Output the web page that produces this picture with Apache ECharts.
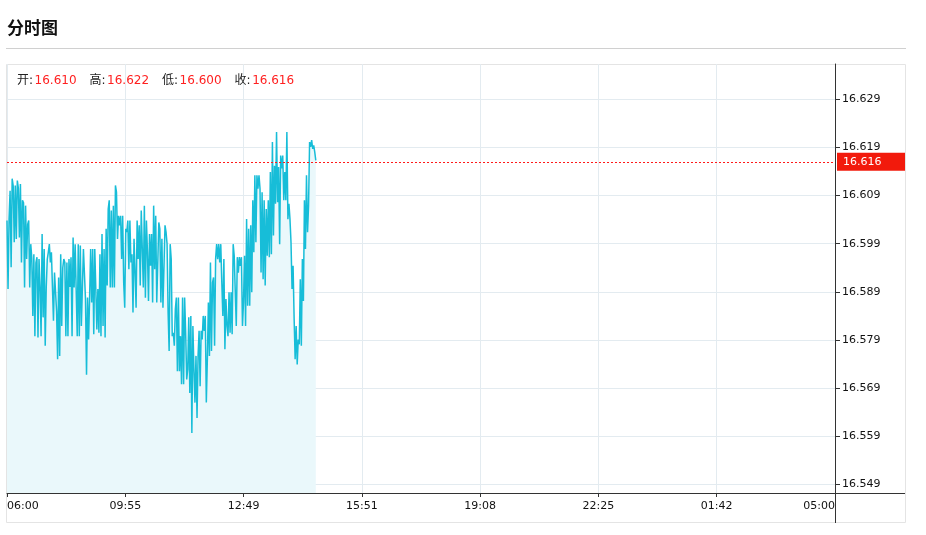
<!DOCTYPE html>
<html>
<head>
<meta charset="utf-8">
<style>
  html, body { margin: 0; padding: 0; background: #fff; }
  #chart { width: 926px; height: 535px; }
</style>
<script src="https://cdn.jsdelivr.net/npm/echarts@6.0.0/dist/echarts.min.js"></script>
</head>
<body>
<div id="chart"></div>
<script>
// ---- data ----
const titleText = '分时图';
const headerLabels = ['开', '高', '低', '收'];
const headerValues = ['16.610', '16.622', '16.600', '16.616'];
const lastClose = 16.616;
const xTickLabels = ['06:00', '09:55', '12:49', '15:51', '19:08', '22:25', '01:42', '05:00'];
const xSlotsPerTick = 197;           // session slots between labelled ticks
const xTotalSlots = 1379;            // 06:00 .. 05:00
const sampleStep = 1.72;             // slots between consecutive samples
const yTicks = [16.549, 16.559, 16.569, 16.579, 16.589, 16.599, 16.609, 16.619, 16.629];
const yMin = 16.54723;
const yMax = 16.63631;
const prices = [
  16.6038, 16.5896, 16.6041, 16.6100, 16.5941, 16.6125, 16.6110, 16.5993, 16.6111, 16.6000,
  16.6121, 16.6105, 16.6003, 16.6114, 16.5951, 16.6080, 16.6075, 16.5899, 16.6069, 16.5958,
  16.6030, 16.6038, 16.5899, 16.5989, 16.5960, 16.5840, 16.5968, 16.5798, 16.5950, 16.5962,
  16.5795, 16.5958, 16.5900, 16.5798, 16.6010, 16.5837, 16.5979, 16.5778, 16.5900, 16.5958,
  16.5972, 16.5989, 16.5951, 16.5972, 16.5900, 16.5830, 16.5930, 16.5927, 16.5850, 16.5750,
  16.5920, 16.5757, 16.5968, 16.5819, 16.5940, 16.5958, 16.5951, 16.5798, 16.5951, 16.5798,
  16.5958, 16.5900, 16.5962, 16.5798, 16.6003, 16.5899, 16.5989, 16.5989, 16.5798, 16.5989,
  16.5798, 16.5986, 16.5819,
  16.5819, 16.5979, 16.5979, 16.5875, 16.5718, 16.5878, 16.5791, 16.5878, 16.5979, 16.5868,
  16.5979, 16.5802, 16.5979, 16.5896, 16.5812, 16.5896, 16.5805, 16.5968, 16.5798, 16.6010,
  16.5819, 16.5979, 16.5795, 16.6021, 16.5903, 16.6062, 16.6080, 16.5899, 16.6059, 16.5899,
  16.6069, 16.5899, 16.6111, 16.6097, 16.6000, 16.6048, 16.6028, 16.6048, 16.5958, 16.6048,
  16.5909, 16.5857, 16.6021, 16.6014, 16.6038, 16.5937, 16.6038, 16.5951, 16.5968, 16.5847,
  16.6000, 16.5930, 16.5857, 16.6038, 16.5958, 16.6028, 16.5903, 16.6059, 16.6062, 16.5899,
  16.6069, 16.5878, 16.6038, 16.5972, 16.5871, 16.6010, 16.5944, 16.6010, 16.5868, 16.6069,
  16.5937, 16.6048, 16.5868,
  16.5868, 16.6034, 16.6021, 16.5868, 16.6000, 16.5857, 16.5861, 16.6028, 16.6014, 16.5989,
  16.5847, 16.5767, 16.5989, 16.5958, 16.5798, 16.5805, 16.5778, 16.5854, 16.5878, 16.5725,
  16.5878, 16.5725, 16.5798, 16.5698, 16.5878, 16.5698, 16.5878, 16.5805, 16.5708, 16.5729,
  16.5837, 16.5680, 16.5840, 16.5597, 16.5819, 16.5729, 16.5660, 16.5757, 16.5628, 16.5757,
  16.5809, 16.5694, 16.5809, 16.5791, 16.5840, 16.5809, 16.5840, 16.5660, 16.5750, 16.5868,
  16.5757, 16.5951, 16.5767, 16.5909, 16.5920, 16.5778, 16.5958, 16.5989, 16.5958, 16.5989,
  16.5951, 16.5989, 16.5909, 16.5840, 16.5958, 16.5771, 16.5875, 16.5819, 16.5798, 16.5889,
  16.5805, 16.5889, 16.5802, 16.5989, 16.5965, 16.5962, 16.5819, 16.5962, 16.5930,
  16.5962, 16.5944, 16.5962, 16.5819, 16.5868, 16.5965, 16.5819, 16.6041, 16.5861, 16.6021,
  16.5861, 16.6028, 16.5889, 16.6080, 16.5972, 16.6132, 16.5993, 16.6132, 16.6104, 16.6132,
  16.6104, 16.5930, 16.6097, 16.5916, 16.6080, 16.5903, 16.6062, 16.5965, 16.6080, 16.5962,
  16.6139, 16.5968, 16.6201, 16.6007, 16.6152, 16.6073, 16.6222, 16.6076, 16.6149, 16.5989,
  16.6173, 16.6146, 16.6173, 16.6080, 16.6139, 16.6080, 16.6222, 16.6041, 16.6073, 16.6041,
  16.5993, 16.5896, 16.5944, 16.5837, 16.5750, 16.5819, 16.5739, 16.5791, 16.5781, 16.5916,
  16.5778, 16.5958, 16.5871, 16.6080, 16.5979, 16.6132, 16.6014, 16.6069, 16.6201, 16.6191,
  16.6205, 16.6187, 16.6194, 16.6180, 16.6163
];

// ---- chart ----
const FONT = 'DejaVu Sans, "Noto Sans CJK SC", sans-serif';
const chart = echarts.init(document.getElementById('chart'), null, { renderer: 'canvas' });

const headerRich = headerLabels.map((k, i) =>
  `{k|${k}:}{${i < headerLabels.length - 1 ? 'v' : 'vl'}|${headerValues[i]}}`).join('');

const seriesData = prices.map((v, i) => [i * sampleStep, v]);

const option = {
  animation: false,
  backgroundColor: '#fff',
  title: [
    {
      text: titleText, left: 7, top: 19, padding: 0,
      textStyle: { fontSize: 17, fontWeight: 'bold', color: '#111', fontFamily: '"Noto Sans CJK SC", sans-serif', lineHeight: 18 }
    },
    {
      text: headerRich, left: 17, top: 74, padding: 0,
      textStyle: {
        fontFamily: FONT, fontSize: 12, lineHeight: 14, fontWeight: 'normal',
        rich: {
          k: { color: '#222', fontSize: 12, fontFamily: FONT, fontWeight: 'normal', padding: [0, 1.5, 0, 0] },
          v: { color: '#ff2020', fontSize: 12, fontFamily: FONT, fontWeight: 'normal', padding: [0, 13, 0, 0] },
          vl: { color: '#ff2020', fontSize: 12, fontFamily: FONT, fontWeight: 'normal' }
        }
      }
    }
  ],
  grid: { left: 7, right: 91, top: 64, bottom: 42, containLabel: false },
  xAxis: {
    type: 'value', min: 0, max: xTotalSlots, interval: xSlotsPerTick,
    axisLine: { show: true, onZero: false, lineStyle: { color: '#333', width: 1 } },
    axisTick: { show: true, length: 4, lineStyle: { color: '#333' } },
    axisLabel: {
      color: '#111', fontSize: 11, fontFamily: FONT, margin: 8,
      alignMinLabel: 'left', alignMaxLabel: 'right', showMinLabel: true, showMaxLabel: true,
      formatter: (v) => xTickLabels[Math.round(v / xSlotsPerTick)]
    },
    splitLine: { show: true, lineStyle: { color: '#e3ebf0', width: 1 } }
  },
  yAxis: {
    type: 'value', position: 'right', min: yMin, max: yMax, scale: true,
    axisLine: { show: true, onZero: false, lineStyle: { color: '#333', width: 1 } },
    axisTick: { show: true, length: 5, customValues: yTicks, lineStyle: { color: '#333' } },
    axisLabel: {
      customValues: yTicks, color: '#111', fontSize: 11, fontFamily: FONT, margin: 7,
      formatter: (v) => Number(v).toFixed(3)
    },
    splitLine: { show: true, lineStyle: { color: '#e3ebf0', width: 1 } }
  },
  graphic: [
    { type: 'line', silent: true, z: 0, shape: { x1: 6, y1: 48.5, x2: 906, y2: 48.5 }, style: { stroke: '#d0d0d0', lineWidth: 1 } },
    { type: 'rect', silent: true, z: 0, shape: { x: 6.5, y: 64.5, width: 899, height: 458 }, style: { stroke: '#e4e4e4', fill: null, lineWidth: 1 } },
    { type: 'line', silent: true, z: 10, shape: { x1: 835, y1: 493.5, x2: 905, y2: 493.5 }, style: { stroke: '#333', lineWidth: 1 } },
    { type: 'line', silent: true, z: 10, shape: { x1: 835.5, y1: 493, x2: 835.5, y2: 523 }, style: { stroke: '#333', lineWidth: 1 } }
  ],
  series: [
    {
      type: 'line', data: seriesData, showSymbol: false, symbol: 'none', smooth: false,
      sampling: null, clip: true,
      lineStyle: { color: '#17bdd8', width: 1.5 },
      itemStyle: { color: '#17bdd8' },
      areaStyle: { color: '#eaf8fb', opacity: 1 },
      markLine: {
        silent: true, symbol: ['none', 'none'], animation: false, precision: 3,
        lineStyle: { color: '#ff1a1a', type: [2, 2], width: 1 },
        label: {
          show: true, position: 'end', distance: 2,
          formatter: () => lastClose.toFixed(3),
          color: '#fff', fontSize: 11, fontFamily: FONT,
          backgroundColor: '#f21a0c', padding: [3, 4, 2, 6], width: 58, align: 'left', lineHeight: 13
        },
        emphasis: { disabled: true },
        data: [[{ coord: [0, lastClose] }, { coord: [xTotalSlots, lastClose] }]]
      }
    }
  ]
};
chart.setOption(option);
</script>
</body>
</html>
